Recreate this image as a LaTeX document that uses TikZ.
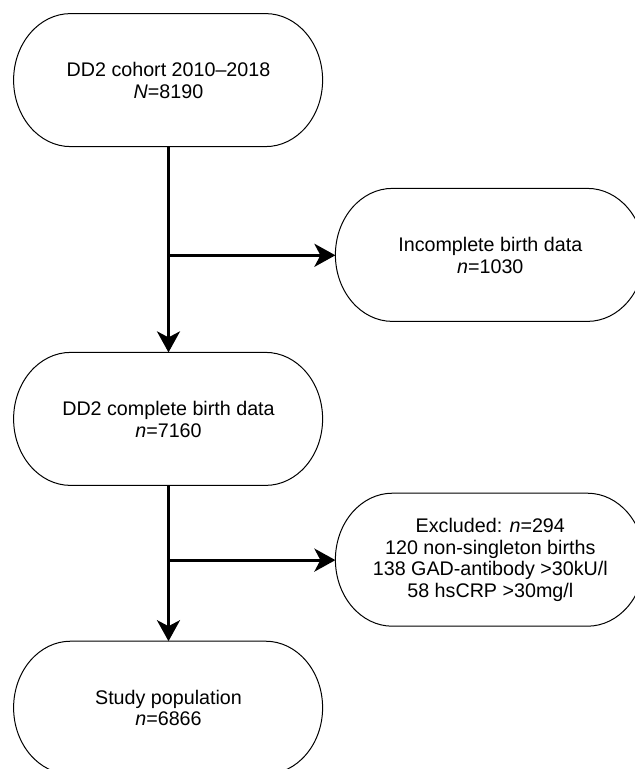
\documentclass[tikz,border=0pt]{standalone}
\usepackage{fontspec}
\setmainfont{Liberation Sans}
\usetikzlibrary{positioning, arrows.meta}

\tikzset{
	stadium/.style={minimum width=154.5pt, minimum height=66.5pt, inner sep=0pt, align=center,
		font=\fontsize{9.85}{10.8}\selectfont},
	flow/.style={line width=1.5pt, -{Stealth[length=10.5pt, width=11.5pt, inset=3pt]}}
}

\begin{document}
\begin{tikzpicture}
				\clip (0,0) rectangle (317.5pt,-384.5pt);
				\node[stadium] (cohort) at (84.25pt,-40.25pt) {DD2 cohort 2010–2018\\\textit{N}=8190};
				\node[stadium, below right=20.5pt and 6pt of cohort] (incomplete) {Incomplete birth data\\\textit{n}=1030};
				\node[stadium, below=102.5pt of cohort] (complete) {DD2 complete birth data\\\textit{n}=7160};
				\node[stadium, below right=3.5pt and 6pt of complete] (excluded) {Excluded: \textit{n}=294\\120 non-singleton births\\138 GAD-antibody >30kU/l\\58 hsCRP >30mg/l};
				\node[stadium, below=77.5pt of complete] (study) {Study population\\\textit{n}=6866};
				% rounded outlines
				\foreach \n in {cohort, incomplete, complete, excluded, study}
					\draw[line width=0.5pt] (\n.north west) ++(28.5pt,0) -- ++(97.5pt,0)
						arc[start angle=90, end angle=-90, x radius=28.5pt, y radius=33.25pt]
						-- ++(-97.5pt,0)
						arc[start angle=270, end angle=90, x radius=28.5pt, y radius=33.25pt] -- cycle;
				\draw[flow] (cohort) -- (complete);
				\draw[flow] (cohort |- incomplete) -- (incomplete);
				\draw[flow] (complete) -- (study);
				\draw[flow] (complete |- excluded) -- (excluded);
			\end{tikzpicture}
\end{document}
